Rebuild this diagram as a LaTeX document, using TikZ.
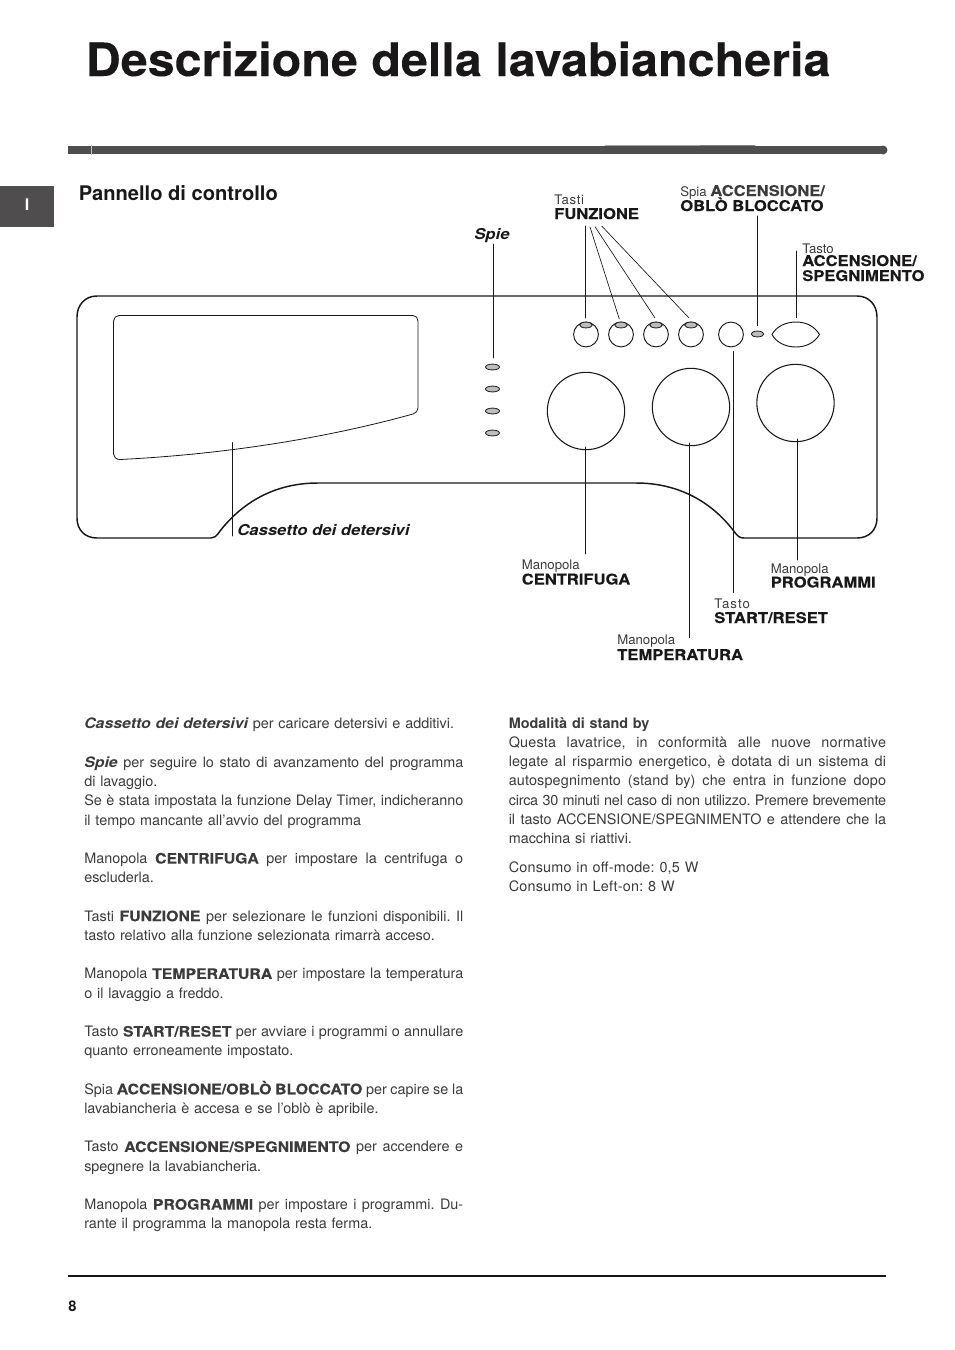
\documentclass[tikz,border=0pt]{standalone}
\usepackage{fontspec}
\setmainfont{TeX Gyre Heros}
\newfontfamily\WideFont[FakeStretch=1.12,BoldFeatures={FakeBold=0.12}]{TeX Gyre Heros}
\newfontfamily\BodyWide[FakeStretch=1.1,BoldFeatures={FakeBold=0.12}]{TeX Gyre Heros}
\newfontfamily\TitleFont[FakeStretch=1.054,BoldFeatures={FakeBold=0.12}]{TeX Gyre Heros}
\usetikzlibrary{shapes.geometric}
\definecolor{BarGrey}{HTML}{4F4D4E}
\definecolor{LedGrey}{HTML}{BDBDBD}
\definecolor{InkBlack}{HTML}{1A1718}
\colorlet{BodyInk}{InkBlack!85!white}
\newdimen\ColWidth
\newcommand{\Wd}[1]{{\BodyWide\bfseries #1}}
\newcommand{\Wi}[1]{{\BodyWide\bfseries\itshape #1}}
\newcommand{\FullLine}[1]{\noindent\hbox to\ColWidth{\spaceskip=.278em plus 1em minus .15em\relax #1}\par}
\newcommand{\LastLine}[1]{\noindent\hbox to\ColWidth{#1\hfil}\par}
\newcommand{\GapLine}{\vskip 14.42pt}
\tikzset{
  KnobCircle/.style={circle, draw=InkBlack, line width=0.8pt, inner sep=0pt, minimum size=58pt},
  ButtonCircle/.style={circle, draw=InkBlack, line width=0.7pt, inner sep=0pt, minimum size=18.6pt},
  LedEllipse/.style={ellipse, draw=InkBlack, fill=LedGrey, line width=0.6pt, inner sep=0pt, minimum width=10.5pt, minimum height=4.4pt},
  Leader/.style={InkBlack, line width=0.7pt},
  ThinLabel/.style={anchor=base west, inner sep=0pt, text=BodyInk, font=\fontsize{9.9}{11}\selectfont},
  BoldLabel/.style={anchor=base west, inner sep=0pt, text=InkBlack, font=\fontsize{11.1}{12}\selectfont\WideFont\bfseries},
  ItalicLabel/.style={anchor=base west, inner sep=0pt, text=InkBlack, font=\fontsize{11.2}{12}\selectfont\WideFont\bfseries\itshape},
  BodyText/.style={anchor=north west, inner sep=0pt, text=BodyInk, font=\fontsize{10.8}{14.42}\selectfont\frenchspacing}
}
\begin{document}
\begin{tikzpicture}[x=0.75pt,y=-0.75pt,line cap=round]
  \useasboundingbox (0,0) rectangle (954,1350);

  % heading and bars
  \node[anchor=base west, inner sep=0pt, text=InkBlack, font=\fontsize{34.5}{40}\selectfont\TitleFont\bfseries] (title) at (85.5,76) {Descrizione della lavabiancheria};
  \fill[BarGrey] (68,146) rectangle (882,154);
  \fill[BarGrey] (883,150) circle (4.5);
  \draw[gray!70, line width=0.7pt] (605,145.5) -- (700,145.5);
  \draw[gray, line width=0.7pt] (700,145.5) -- (755,145.5);
  \draw[gray!50, line width=0.7pt] (91,145) -- (91,155);
  \fill[BarGrey] (0,186) rectangle (54,227);
  \node[inner sep=0pt, text=white, font=\fontsize{12}{13}\selectfont\bfseries] (tabI) at (27,205) {I};
  \node[anchor=base west, inner sep=0pt, text=InkBlack, font=\fontsize{15.1}{17}\selectfont\bfseries] (panelTitle) at (78.5,200) {Pannello di controllo};

  % control panel
  \draw[InkBlack, line width=1.1pt] (97,296) -- (857,296) .. controls (869,296) and (877,305) .. (877,317)
    -- (877,518) .. controls (877,530) and (869,538) .. (857,538) -- (744,538)
    .. controls (740,538) and (738,537) .. (733,530) .. controls (712,503) and (680,483) .. (636,483)
    -- (318,483) .. controls (274,483) and (242,503) .. (220,531) .. controls (216,537) and (214,538) .. (211,538)
    -- (97,538) .. controls (85,538) and (77,530) .. (77,518) -- (77,317) .. controls (77,305) and (85,296) .. (97,296) -- cycle;
  \draw[InkBlack, line width=0.6pt] (119,315.5) -- (413,315.5) .. controls (416,315.5) and (418,318) .. (418,321)
    -- (418,408) .. controls (418,411) and (416,413) .. (413,414) .. controls (330,437) and (230,454) .. (120,459.5)
    .. controls (116,459.5) and (113.5,457) .. (113.5,454) -- (113.5,321) .. controls (113.5,318) and (116,315.5) .. (119,315.5) -- cycle;

  % leds, buttons and knobs
  \foreach \Name/\Ypos in {spieA/367,spieB/389,spieC/411,spieD/433}
    \node[LedEllipse] (\Name) at (492.5,\Ypos) {};
  \foreach \Name/\Xpos in {funzA/586,funzB/621,funzC/656,funzD/691} {
    \node[ButtonCircle] (\Name) at (\Xpos,334.5) {};
    \node[LedEllipse, minimum width=9.5pt] (\Name led) at (\Xpos,325) {};
  }
  \node[ButtonCircle] (startBtn) at (731,334.5) {};
  \node[LedEllipse, minimum width=9.5pt] (doorLed) at (757.5,334) {};
  \draw[InkBlack, line width=0.7pt] (772,334.5) .. controls (776,327) and (785,322) .. (796,322)
    .. controls (807,322) and (815,327) .. (819.5,334.5) .. controls (815,342) and (807,347) .. (796,347)
    .. controls (785,347) and (776,342) .. (772,334.5) -- cycle;
  \node[KnobCircle] (knobCentr) at (586,411) {};
  \node[KnobCircle] (knobTemp) at (691,407) {};
  \node[KnobCircle] (knobProg) at (795.5,403) {};

  % labels
  \node[ThinLabel] (tastiTop) at (554,204) {\addfontfeature{LetterSpace=5}Tasti};
  \node[BoldLabel] (tastiLow) at (554,219) {FUNZIONE};
  \node[ThinLabel] (spiaTop) at (680,196) {Spia \fontsize{11.1}{12}\selectfont\WideFont\bfseries ACCENSIONE/};
  \node[BoldLabel] (spiaLow) at (680,211) {OBLÒ BLOCCATO};
  \node[ThinLabel] (powerTop) at (802,253) {Tasto};
  \node[BoldLabel] (powerMid) at (802,266) {ACCENSIONE/};
  \node[BoldLabel] (powerLow) at (802,281) {SPEGNIMENTO};
  \node[ItalicLabel] (spieLabel) at (474,239) {Spie};
  \node[ItalicLabel] (drawerLabel) at (237,535) {Cassetto dei detersivi};
  \node[ThinLabel] (centrTop) at (521.5,569) {Manopola};
  \node[BoldLabel] (centrLow) at (521.5,584.5) {CENTRIFUGA};
  \node[ThinLabel] (progTop) at (770.5,573.5) {Manopola};
  \node[BoldLabel] (progLow) at (770.5,587.5) {PROGRAMMI};
  \node[ThinLabel] (startTop) at (714,608.5) {\addfontfeature{LetterSpace=8}Tasto};
  \node[BoldLabel] (startLow) at (714,623) {START/RESET};
  \node[ThinLabel] (tempTop) at (617,644.5) {Manopola};
  \node[BoldLabel] (tempLow) at (617,660) {TEMPERATURA};

  % free ends of the leaders
  \coordinate (endSpie) at (493,244);
  \coordinate (tipSpie) at (493,358);
  \coordinate (endFunzA) at (585.7,226);
  \coordinate (endFunzB) at (590,227);
  \coordinate (endFunzC) at (595,226.7);
  \coordinate (endFunzD) at (601.7,226);
  \coordinate (tipFunzA) at (585.7,318);
  \coordinate (tipFunzB) at (619.3,319);
  \coordinate (tipFunzC) at (655,318);
  \coordinate (tipFunzD) at (689,318);
  \coordinate (endDoor) at (757.5,216);
  \coordinate (tipDoor) at (757.5,325.7);
  \coordinate (endPower) at (796.7,251);
  \coordinate (tipPower) at (796.7,317.7);
  \coordinate (tipStart) at (733.3,351.7);
  \coordinate (endStart) at (733.3,592.7);
  \coordinate (tipCentr) at (585.7,447);
  \coordinate (endCentr) at (585.7,554);
  \coordinate (tipTemp) at (689.3,443);
  \coordinate (endTemp) at (689.3,637.7);
  \coordinate (tipProg) at (797.3,439);
  \coordinate (endProg) at (797.3,560);
  \coordinate (tipDrawer) at (232.3,442.7);
  \coordinate (endDrawer) at (232.3,536);

  \foreach \From/\To in {endSpie/tipSpie,endFunzA/tipFunzA,endDoor/tipDoor,endPower/tipPower,tipStart/endStart,tipCentr/endCentr,tipTemp/endTemp,tipProg/endProg,tipDrawer/endDrawer}
    \draw[Leader] (\From) -- (\To);
  \foreach \From/\To in {endFunzB/tipFunzB,endFunzC/tipFunzC,endFunzD/tipFunzD}
    \draw[Leader, line width=0.5pt] (\From) -- (\To);

  % text columns
  \node[BodyText, text width=284.25pt] (leftColumn) at (84,718) {%
    \ColWidth=284.25pt
    \LastLine{\Wi{Cassetto dei detersivi} per caricare detersivi e additivi.}
    \GapLine
    \FullLine{\Wi{Spie} per seguire lo stato di avanzamento del programma}
    \LastLine{di lavaggio.}
    \FullLine{Se è stata impostata la funzione Delay Timer, indicheranno}
    \LastLine{il tempo mancante all’avvio del programma}
    \GapLine
    \FullLine{Manopola \Wd{CENTRIFUGA} per impostare la centrifuga o}
    \LastLine{escluderla.}
    \GapLine
    \FullLine{Tasti \Wd{FUNZIONE} per selezionare le funzioni disponibili. Il}
    \LastLine{tasto relativo alla funzione selezionata rimarrà acceso.}
    \GapLine
    \FullLine{Manopola \Wd{TEMPERATURA} per impostare la temperatura}
    \LastLine{o il lavaggio a freddo.}
    \GapLine
    \FullLine{Tasto \Wd{START/RESET} per avviare i programmi o annullare}
    \LastLine{quanto erroneamente impostato.}
    \GapLine
    \FullLine{Spia \Wd{ACCENSIONE/OBLÒ BLOCCATO} per capire se la}
    \LastLine{lavabiancheria è accesa e se l’oblò è apribile.}
    \GapLine
    \FullLine{Tasto \Wd{ACCENSIONE/SPEGNIMENTO} per accendere e}
    \LastLine{spegnere la lavabiancheria.}
    \GapLine
    \FullLine{Manopola \Wd{PROGRAMMI} per impostare i programmi. Du-}
    \LastLine{rante il programma la manopola resta ferma.}
  };
  \node[BodyText, text width=283pt] (rightColumn) at (508.5,717) {%
    \ColWidth=283pt
    \LastLine{\textbf{Modalità di stand by}}
    \FullLine{\addfontfeature{LetterSpace=1.5}Questa lavatrice, in conformità alle nuove normative}
    \FullLine{\addfontfeature{LetterSpace=1}legate al risparmio energetico, è dotata di un sistema di}
    \FullLine{\addfontfeature{LetterSpace=1}autospegnimento (stand by) che entra in funzione dopo}
    \FullLine{\addfontfeature{LetterSpace=-1.5}circa 30 minuti nel caso di non utilizzo. Premere brevemente}
    \FullLine{il tasto ACCENSIONE/SPEGNIMENTO e attendere che la}
    \LastLine{macchina si riattivi.}
    \vskip 7.2pt
    \LastLine{\addfontfeature{LetterSpace=1.5}Consumo in off-mode: 0,5 W}
    \LastLine{\addfontfeature{LetterSpace=1.5}Consumo in Left-on: 8 W}
  };

  % foot of the page
  \coordinate (ruleStart) at (68,1276);
  \coordinate (ruleEnd) at (886,1276);
  \draw[InkBlack, line width=1.5pt, line cap=butt] (ruleStart) -- (ruleEnd);
  \node[anchor=base west, inner sep=0pt, text=InkBlack, font=\fontsize{11}{12}\selectfont\bfseries] (pageNo) at (68,1311) {8};
\end{tikzpicture}
\end{document}
